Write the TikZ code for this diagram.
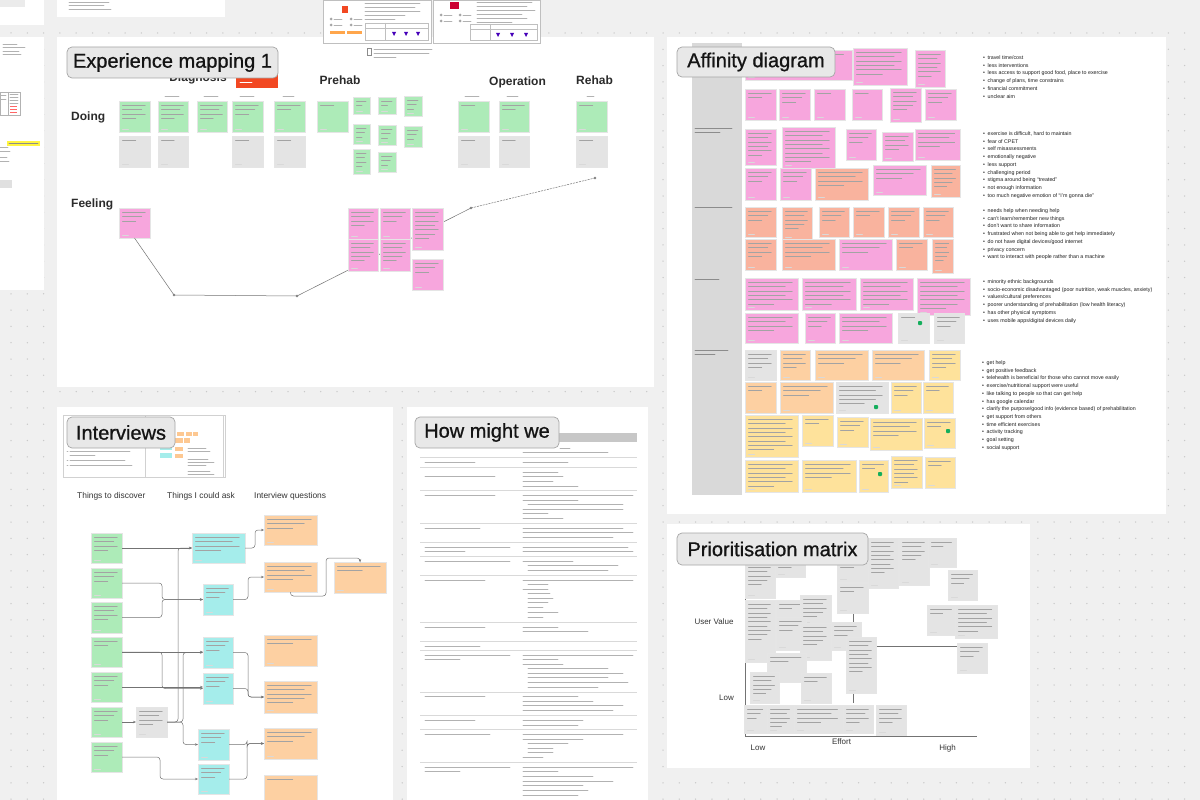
\documentclass[tikz,border=0pt]{standalone}
\usepackage{fontspec}
\setmainfont{Liberation Sans}
\newfontfamily\titlefont[FakeBold=0.9]{Liberation Sans}
\usetikzlibrary{arrows.meta}
\definecolor{canvas}{HTML}{F0F0F0}
\definecolor{dotc}{HTML}{C9C9C9}
\definecolor{sgreen}{HTML}{ADEBB8}
\definecolor{sgray}{HTML}{E4E4E4}
\definecolor{spink}{HTML}{F7A6DD}
\definecolor{ssalmon}{HTML}{F9B39E}
\definecolor{sorange}{HTML}{FDD0A2}
\definecolor{syellow}{HTML}{FEE29B}
\definecolor{scyan}{HTML}{A5EDEB}
\definecolor{sred}{HTML}{F24822}
\definecolor{thumbgreen}{HTML}{14AE5C}
\definecolor{inkdark}{HTML}{2B2B2B}

% sticky note: name, colour, x1, y1, x2, y2, number of text lines
\newcommand\stickynote[7]{%
  \node[sticky, fill=#2, minimum width={(#5-#3)*1pt}, minimum height={(#6-#4)*1pt}, anchor=north west] (#1) at (#3,#4) {};
  \foreach \k in {1,...,#7}{%
    \pgfmathsetmacro\len{(#5-#3-7)*ifthenelse(\k==#7,0.55,ifthenelse(mod(\k,2)==0,0.8,0.95))}
    \draw[greek] (#3+3.5,#4+4.5+\k*4.3-4.3) -- ++(\len,0);
  }
  \draw[greek, draw=black!15, line width=0.6pt] (#3+3.5,#6-3) -- ++(6,0);
}

\begin{document}
\begin{tikzpicture}[x=1pt,y=-1pt,
  sticky/.style={draw=black!10, line width=0.3pt, inner sep=0pt, outer sep=0pt, rectangle},
  greek/.style={line width=0.7pt, draw=black!36, line cap=round},
  hmwtext/.style={line width=0.75pt, draw=black!30, line cap=round},
  rowline/.style={line width=0.3pt, draw=black!15},
  frame/.style={fill=white},
  titlebox/.style={draw=black!35, fill=black!9, rounded corners=5pt, line width=0.7pt,
    font=\titlefont\fontsize{20}{24}\selectfont, text=black!92, inner sep=0pt},
  heading/.style={font=\bfseries\fontsize{12}{14}\selectfont, text=inkdark, inner sep=0pt},
  colhead/.style={font=\fontsize{8.4}{10}\selectfont, text=black!80, inner sep=0pt, anchor=west},
  axislabel/.style={font=\fontsize{8}{10}\selectfont, text=black!80, inner sep=0pt},
  blist/.style={font=\fontsize{5.3}{7.7}\selectfont, text=black!88, align=left, inner sep=0pt, anchor=north west},
  conn/.style={draw=black!55, line width=0.5pt, rounded corners=3pt, -{Stealth[length=3pt,width=2.4pt]}},
  journey/.style={draw=black!55, line width=0.5pt},
  axis/.style={draw=black!55, line width=0.7pt}
]
\useasboundingbox (0,0) rectangle (1200,800);

% ---------- canvas with dot grid ----------
\fill[canvas] (0,0) rectangle (1200,800);
\foreach \i in {0,...,73}{\foreach \j in {0,...,47}{\fill[dotc] (11+\i*16.3,33+\j*16.3) circle[radius=0.75];}}

% ---------- frames ----------
\fill[frame] (0,0) rectangle (44,25);
\fill[black!8] (0,0) rectangle (25,7);
\fill[frame] (57,0) rectangle (225,17);
\fill[frame] (0,37) rectangle (44,290);
\fill[frame] (57,37) rectangle (654,387);
\fill[frame] (57,407) rectangle (393,800);
\fill[frame] (407,407) rectangle (648,800);
\fill[frame] (667,37) rectangle (1166,514);
\fill[frame] (667,524) rectangle (1030,768);

% ---------- small notes on the left edge ----------
\foreach \yy/\ll in {2/40, 5.5/35, 9/42}{\draw[hmwtext] (69,\yy) -- ++(\ll,0);}
\foreach \yy/\ll in {44/14, 47.5/22, 51/16, 54.5/18}{\draw[hmwtext] (3,\yy) -- ++(\ll,0);}
\draw[black!30, line width=0.3pt] (0,92) rectangle (20,115);
\draw[black!30, line width=0.3pt] (8,92) -- (8,115);
\foreach \yy in {94,97,100,103}{\draw[hmwtext] (10,\yy) -- ++(8,0);}
\foreach \yy in {106,109,112}{\draw[line width=0.7pt, red!60] (10,\yy) -- ++(7,0);}
\foreach \yy in {95,99}{\draw[hmwtext] (1,\yy) -- ++(5,0);}
\fill[yellow!75] (7,141) rectangle (40,145.5);
\draw[hmwtext, draw=black!45] (9,143.3) -- ++(29,0);
\foreach \yy/\ll in {147/8, 151/10, 157/7, 161/9}{\draw[hmwtext] (0,\yy) -- ++(\ll,0);}
\fill[black!12] (0,180) rectangle (12,188);

% ---------- reference thumbnails above the experience map ----------
\draw[fill=white, draw=black!25, line width=0.4pt] (323,0) rectangle (431,43);
\draw[fill=white, draw=black!25, line width=0.4pt] (433,0) rectangle (540,43);
\fill[sred] (342,6) rectangle (348,13);
\foreach \yy/\ll in {3/55, 7/50, 11/55, 15/40, 19/30}{\draw[hmwtext] (365,\yy) -- ++(\ll,0);}
\foreach \xx/\yy in {331/19, 351/19, 331/25, 351/25}{\fill[black!35] (\xx,\yy) circle[radius=1.5]; \draw[hmwtext] (\xx+3,\yy) -- ++(8,0);}
\fill[orange!70] (330,31) rectangle (345,34);
\fill[orange!70] (347,31) rectangle (362,34);
\draw[black!25, line width=0.3pt] (365,23) rectangle (428,40) (365,28) -- (428,28) (385,23) -- (385,40);
\foreach \xx in {392,404,416}{\fill[blue!45!violet] (\xx,32) -- (\xx+4,32) -- (\xx+2,36) -- cycle;}
\fill[purple!80!red] (450,2) rectangle (459,9);
\foreach \yy/\ll in {2/55, 6/50, 10/58, 14/45, 18/50, 22/35}{\draw[hmwtext] (477,\yy) -- ++(\ll,0);}
\foreach \xx/\yy in {441/15, 460/15, 441/21, 460/21}{\fill[black!35] (\xx,\yy) circle[radius=1.5]; \draw[hmwtext] (\xx+3,\yy) -- ++(8,0);}
\draw[black!25, line width=0.3pt] (470,24) rectangle (537,40) (470,29) -- (537,29) (490,24) -- (490,40);
\foreach \xx in {496,510,524}{\fill[blue!45!violet] (\xx,33) -- (\xx+4,33) -- (\xx+2,37) -- cycle;}
\draw[black!45, line width=0.4pt] (367,48) rectangle (371,55);
\foreach \yy/\ll in {49/58, 53/55, 57/22}{\draw[hmwtext] (374,\yy) -- ++(\ll,0);}

% ================= Experience mapping 1 =================
\node[heading] (hdiag) at (198,78) {Diagnosis};
\fill[sred] (236,62) rectangle (278,88);
\draw[line width=0.6pt, white, line cap=round] (240,82) -- ++(12,0);
\node[heading] (hprehab) at (340,80) {Prehab};
\node[heading] (hop) at (517.5,82) {Operation};
\node[heading] (hrehab) at (594.5,80) {Rehab};
\node[heading, anchor=west] (hdoing) at (71,117) {Doing};
\node[heading, anchor=west] (hfeel) at (71,204) {Feeling};

% stage labels over the columns
\foreach \xx/\ll in {165/14, 204/14, 240/14, 283/11, 465/14, 507/11, 587/7}{\draw[hmwtext, line width=0.6pt] (\xx,96) -- ++(\ll,0);}

\stickynote{eg1}{sgreen}{119}{101}{150}{132}{4}
\stickynote{eg2}{sgreen}{158}{101}{188}{132}{4}
\stickynote{eg3}{sgreen}{197}{101}{227}{132}{4}
\stickynote{eg4}{sgreen}{232}{101}{263}{132}{3}
\stickynote{eg5}{sgreen}{274}{101}{305}{132}{2}
\stickynote{eg6}{sgreen}{317}{101}{348}{132}{1}
\stickynote{es1}{sgreen}{353}{97}{370}{114}{2}
\stickynote{es2}{sgreen}{353}{124}{370}{144}{3}
\stickynote{es3}{sgreen}{353}{149}{370}{174}{4}
\stickynote{es4}{sgreen}{378}{97}{396}{114}{2}
\stickynote{es5}{sgreen}{378}{125}{396}{145}{3}
\stickynote{es6}{sgreen}{378}{152}{396}{172}{3}
\stickynote{es7}{sgreen}{404}{96}{422}{116}{3}
\stickynote{es8}{sgreen}{404}{126}{422}{147}{3}
\stickynote{eg7}{sgreen}{458}{101}{489}{132}{1}
\stickynote{eg8}{sgreen}{499}{101}{529}{132}{2}
\stickynote{eg9}{sgreen}{576}{101}{607}{132}{1}
\stickynote{ey1}{sgray}{119}{136}{150}{167}{1}
\stickynote{ey2}{sgray}{158}{136}{188}{167}{1}
\stickynote{ey3}{sgray}{232}{136}{263}{167}{1}
\stickynote{ey4}{sgray}{274}{136}{305}{167}{1}
\stickynote{ey5}{sgray}{458}{136}{489}{167}{1}
\stickynote{ey6}{sgray}{499}{136}{529}{167}{1}
\stickynote{ey7}{sgray}{576}{136}{607}{167}{1}

% emotional journey line
\stickynote{ef1}{spink}{119}{208}{150}{238}{3}
\coordinate (fl1) at (174,295);
\coordinate (fl2) at (297,296);
\coordinate (fl3) at (471,208);
\coordinate (fl4) at (595,178);
\draw[journey] (ef1.south) -- (fl1) -- (fl2) -- (fl3);
\draw[journey, dash pattern=on 2pt off 1pt] (fl3) -- (fl4);
\foreach \c in {fl1,fl2,fl3,fl4}{\draw[black!55, fill=white, line width=0.4pt] (\c) circle[radius=1];}
\stickynote{ef2}{spink}{348}{208}{378}{239}{4}
\stickynote{ef3}{spink}{348}{239}{378}{271}{5}
\stickynote{ef4}{spink}{380}{208}{410}{239}{3}
\stickynote{ef5}{spink}{380}{239}{410}{271}{5}
\stickynote{ef6}{spink}{412}{208}{443}{250}{7}
\stickynote{ef7}{spink}{412}{259}{443}{290}{3}

\node[titlebox, minimum width=211pt, minimum height=31pt] (expTitle) at (172.5,62.5) {Experience mapping 1};

% ================= Interviews =================
\draw[fill=white, draw=black!18, line width=0.4pt] (63,415) rectangle (225,477);
\draw[draw=black!18, line width=0.4pt] (145,415) rectangle (223,477);
\foreach \yy/\ll in {451/60, 455/25, 460/55, 465/62}{\draw[hmwtext] (70,\yy) -- ++(\ll,0);}
\foreach \yy in {451,460,465}{\draw[hmwtext] (67,\yy) -- ++(1,0);}
\foreach \a/\b/\c/\d in {177/432/184/436, 186/432/192/436, 193/432/198/436, 175/438/183/443, 184/438/190/443, 175/447/183/451, 175/454/183/458}{\fill[sorange!90!orange] (\a,\b) rectangle (\c,\d);}
\fill[scyan] (160,447) rectangle (172,450);
\fill[scyan] (160,453) rectangle (172,458);
\foreach \yy/\ll in {448/18, 451/22, 459/20, 462/26, 465/18, 471/22, 474/26}{\draw[hmwtext, line width=0.6pt] (188,\yy) -- ++(\ll,0);}
\node[titlebox, minimum width=108pt, minimum height=31pt] (intTitle) at (121,432.5) {Interviews};

\node[colhead] (hdisc) at (77,496) {Things to discover};
\node[colhead] (hask) at (167,496) {Things I could ask};
\node[colhead] (hquest) at (254,496) {Interview questions};

\stickynote{ig1}{sgreen}{91}{533}{122}{563}{4}
\stickynote{ig2}{sgreen}{91}{568}{122}{598}{3}
\stickynote{ig3}{sgreen}{91}{602}{122}{633}{4}
\stickynote{ig4}{sgreen}{91}{637}{122}{667}{2}
\stickynote{ig5}{sgreen}{91}{672}{122}{702}{3}
\stickynote{ig6}{sgreen}{91}{707}{122}{737}{3}
\stickynote{ig7}{sgreen}{91}{742}{122}{772}{3}
\stickynote{igr}{sgray}{136}{707}{167}{737}{4}
\stickynote{ic1}{scyan}{192}{533}{245}{563}{4}
\stickynote{ic2}{scyan}{203}{584}{233}{615}{3}
\stickynote{ic3}{scyan}{203}{637}{233}{668}{3}
\stickynote{ic4}{scyan}{203}{673}{233}{704}{3}
\stickynote{ic5}{scyan}{198}{729}{229}{760}{3}
\stickynote{ic6}{scyan}{198}{764}{229}{794}{3}
\stickynote{io1}{sorange}{264}{515}{317}{545}{3}
\stickynote{io2}{sorange}{264}{562}{317}{592}{4}
\stickynote{io3}{sorange}{264}{635}{317}{666}{2}
\stickynote{io4}{sorange}{264}{681}{317}{713}{5}
\stickynote{io5}{sorange}{264}{728}{317}{759}{3}
\stickynote{io6}{sorange}{264}{775}{317}{805}{1}
\stickynote{io7}{sorange}{334}{562}{386}{593}{2}

\draw[conn] (ig1.east) -- (ig1.east -| ic1.west);
\draw[conn] (ig2.east) -- ++(40,0) |- (ic2.west);
\draw[conn] (ig3.east) -- ++(40,0) |- (ic2.west);
\draw[conn] (ig4.east) -- (ig4.east -| ic3.west);
\draw[conn] (ig4.east) -- ++(40,0) |- (ic4.west);
\draw[conn] (ig5.east) -- (ig5.east -| ic4.west);
\draw[conn] (ig6.east) -- (igr.west);
\draw[conn] (igr.east) -- ++(11,0) |- (ic1.west);
\draw[conn] (igr.east) -- ++(16,0) |- (ic3.west);
\draw[conn] (igr.east) -- ++(16,0) |- (ic5.west);
\draw[conn] (ig7.east) -- ++(38,0) |- (ic6.west);
\draw[conn] (ic1.east) -- ++(10,0) |- (io1.west);
\draw[conn] (ic2.east) -- ++(15,0) |- (io2.west);
\draw[conn] (ic3.east) -- ++(15,0) |- (io4.west);
\draw[conn] (ic4.east) -- ++(15,0) |- (io4.west);
\draw[conn] (ic5.east) -- ++(18,0) |- (io5.west);
\draw[conn] (ic6.east) -- ++(18,0) |- (io5.west);
\draw[conn] (io2.south) -- ++(0,4) -- ++(35.5,0) -- ++(0,-38) -| (io7.north);

% ================= How might we =================
\fill[black!22] (559,433) rectangle (637,442);
\draw[hmwtext] (560,448) -- ++(10,0);
\foreach \yy in {457,467,490,523,542,556,575,622,641,650,692,715,729,762}{\draw[rowline] (420,\yy) -- (637,\yy);}
\foreach \yy/\ll in {462/50, 476/70, 495/70, 528/55, 547/85, 551/40, 561/85, 580/60, 627/60, 646/55, 655/85, 659/35, 696/60, 720/50, 734/65, 767/85, 771/35}{\draw[hmwtext] (425,\yy) -- ++(\ll,0);}
\foreach \xx/\yy/\ll in {523/452/85, 523/462/45, 523/472/35, 523/476/40, 523/481/30, 523/486/55, 523/495/110, 523/500/55, 528/504/95, 523/509/100, 523/513/25, 523/518/40, 523/528/100, 523/532/110, 523/537/90, 523/547/105, 523/551/110, 523/561/50, 528/565/90, 528/570/80, 523/580/110, 528/584/20, 523/589/25, 528/593/22, 528/598/25, 528/602/20, 528/607/15, 528/612/30, 528/617/15, 523/627/35, 523/631/65, 523/655/110, 523/659/35, 523/664/40, 528/668/80, 528/673/95, 528/677/80, 528/682/100, 528/687/70, 523/696/55, 523/701/70, 523/705/100, 523/710/90, 523/720/60, 523/725/55, 523/734/100, 523/739/60, 528/743/40, 528/748/25, 528/752/25, 523/757/20, 523/767/110, 523/771/35, 523/776/70, 523/781/90, 523/785/60, 523/790/65, 523/795/55}{\draw[hmwtext] (\xx,\yy) -- ++(\ll,0);}
\node[titlebox, minimum width=144pt, minimum height=31pt] (hmwTitle) at (487,432.5) {How might we};

% ================= Affinity diagram =================
\fill[black!15] (692,43) rectangle (742,495);
\foreach \yy/\ll in {128/37, 132.5/25, 207/37, 279/24, 350/33, 354.5/20}{\draw[hmwtext, line width=0.6pt, draw=black!45] (695,\yy) -- ++(\ll,0);}

\stickynote{a1}{spink}{745}{50}{852}{80}{2}
\stickynote{a2}{spink}{853}{48}{907}{85}{6}
\stickynote{a3}{spink}{915}{50}{945}{87}{6}
\stickynote{a4}{spink}{745}{89}{776}{120}{2}
\stickynote{a5}{spink}{779}{89}{810}{120}{3}
\stickynote{a6}{spink}{814}{89}{845}{120}{1}
\stickynote{a7}{spink}{852}{89}{882}{120}{1}
\stickynote{a8}{spink}{890}{88}{921}{122}{5}
\stickynote{a9}{spink}{925}{89}{956}{120}{3}
\stickynote{a10}{spink}{745}{129}{776}{165}{6}
\stickynote{a11}{spink}{782}{127}{835}{168}{8}
\stickynote{a12}{spink}{846}{129}{876}{160}{3}
\stickynote{a13}{spink}{882}{132}{913}{161}{4}
\stickynote{a14}{spink}{915}{129}{960}{160}{4}
\stickynote{a15}{spink}{745}{168}{776}{200}{3}
\stickynote{a16}{spink}{780}{168}{811}{200}{3}
\stickynote{a17}{ssalmon}{815}{168}{868}{200}{4}
\stickynote{a18}{spink}{873}{165}{926}{195}{3}
\stickynote{a19}{ssalmon}{931}{165}{960}{197}{5}
\stickynote{a20}{ssalmon}{745}{207}{776}{237}{3}
\stickynote{a21}{ssalmon}{782}{207}{812}{240}{5}
\stickynote{a22}{ssalmon}{819}{207}{849}{237}{3}
\stickynote{a23}{ssalmon}{853}{207}{884}{237}{2}
\stickynote{a24}{ssalmon}{888}{207}{919}{237}{3}
\stickynote{a25}{ssalmon}{923}{207}{953}{237}{3}
\stickynote{a26}{ssalmon}{745}{239}{776}{270}{4}
\stickynote{a27}{ssalmon}{782}{239}{835}{270}{4}
\stickynote{a28}{spink}{839}{239}{892}{270}{3}
\stickynote{a29}{ssalmon}{896}{239}{927}{270}{2}
\stickynote{a30}{ssalmon}{932}{239}{953}{273}{5}
\stickynote{a31}{spink}{745}{278}{798}{310}{6}
\stickynote{a32}{spink}{802}{278}{856}{310}{6}
\stickynote{a33}{spink}{860}{278}{913}{310}{6}
\stickynote{a34}{spink}{917}{278}{970}{315}{7}
\stickynote{a35}{spink}{745}{313}{798}{343}{4}
\stickynote{a36}{spink}{805}{313}{835}{343}{3}
\stickynote{a37}{spink}{839}{313}{892}{343}{4}
\stickynote{a38}{sgray}{898}{313}{929}{343}{1}
\stickynote{a39}{sgray}{934}{313}{964}{343}{3}
\stickynote{a40}{sgray}{745}{350}{776}{380}{4}
\stickynote{a41}{sorange}{780}{350}{810}{380}{4}
\stickynote{a42}{sorange}{815}{350}{868}{380}{3}
\stickynote{a43}{sorange}{872}{350}{924}{380}{3}
\stickynote{a44}{syellow}{929}{350}{960}{380}{4}
\stickynote{a45}{sorange}{745}{382}{776}{413}{2}
\stickynote{a46}{sorange}{780}{382}{833}{413}{3}
\stickynote{a47}{sgray}{836}{382}{888}{413}{5}
\stickynote{a48}{syellow}{891}{382}{921}{413}{3}
\stickynote{a49}{syellow}{923}{382}{953}{413}{2}
\stickynote{a50}{syellow}{745}{415}{798}{457}{8}
\stickynote{a51}{syellow}{802}{415}{833}{446}{2}
\stickynote{a52}{syellow}{837}{417}{868}{447}{3}
\stickynote{a53}{syellow}{870}{418}{922}{450}{4}
\stickynote{a54}{syellow}{924}{418}{955}{448}{2}
\stickynote{a55}{syellow}{745}{460}{798}{492}{6}
\stickynote{a56}{syellow}{802}{460}{856}{492}{4}
\stickynote{a57}{syellow}{859}{460}{888}{492}{2}
\stickynote{a58}{syellow}{891}{456}{922}{488}{6}
\stickynote{a59}{syellow}{925}{457}{955}{488}{2}
\foreach \xx/\yy in {918/321, 874/405, 946/429, 878/472}{\fill[thumbgreen, rounded corners=0.8pt] (\xx,\yy) rectangle ++(4,4);}

\node[titlebox, minimum width=158pt, minimum height=30pt] (affTitle) at (756,62) {Affinity diagram};

\node[blist] (list1) at (983,55.5) {•\hspace{2.6pt}travel time/cost\\ •\hspace{2.6pt}less interventions\\ •\hspace{2.6pt}less access to support good food, place to exercise\\ •\hspace{2.6pt}change of plans, time constrains\\ •\hspace{2.6pt}financial commitment\\ •\hspace{2.6pt}unclear aim};
\node[blist] (list2) at (983,131.5) {•\hspace{2.6pt}exercise is difficult, hard to maintain\\ •\hspace{2.6pt}fear of CPET\\ •\hspace{2.6pt}self misassessments\\ •\hspace{2.6pt}emotionally negative\\ •\hspace{2.6pt}less support\\ •\hspace{2.6pt}challenging period\\ •\hspace{2.6pt}stigma around being ``treated''\\ •\hspace{2.6pt}not enough information\\ •\hspace{2.6pt}too much negative emotion of ``I'm gonna die''};
\node[blist] (list3) at (983,208.5) {•\hspace{2.6pt}needs help when needing help\\ •\hspace{2.6pt}can't learn/remember new things\\ •\hspace{2.6pt}don't want to share information\\ •\hspace{2.6pt}frustrated when not being able to get help immediately\\ •\hspace{2.6pt}do not have digital devices/good internet\\ •\hspace{2.6pt}privacy concern\\ •\hspace{2.6pt}want to interact with people rather than a machine};
\node[blist] (list4) at (983,279.5) {•\hspace{2.6pt}minority ethnic backgrounds\\ •\hspace{2.6pt}socio-economic disadvantaged (poor nutrition, weak muscles, anxiety)\\ •\hspace{2.6pt}values/cultural preferences\\ •\hspace{2.6pt}poorer understanding of prehabilitation (low health literacy)\\ •\hspace{2.6pt}has other physical symptoms\\ •\hspace{2.6pt}uses mobile apps/digital devices daily};
\node[blist] (list5) at (982,360.5) {•\hspace{2.6pt}get help\\ •\hspace{2.6pt}get positive feedback\\ •\hspace{2.6pt}telehealth is beneficial for those who cannot move easily\\ •\hspace{2.6pt}exercise/nutritional support were useful\\ •\hspace{2.6pt}like talking to people so that can get help\\ •\hspace{2.6pt}has google calendar\\ •\hspace{2.6pt}clarify the purpose/good info (evidence based) of prehabilitation\\ •\hspace{2.6pt}get support from others\\ •\hspace{2.6pt}time efficient exercises\\ •\hspace{2.6pt}activity tracking\\ •\hspace{2.6pt}goal setting\\ •\hspace{2.6pt}social support};

% ================= Prioritisation matrix =================
\coordinate (pO) at (745,736);
\coordinate (pXend) at (977,736);
\coordinate (pYtop) at (745,565);
\coordinate (pMidV1) at (853,575);
\coordinate (pMidV2) at (853,703);
\coordinate (pMidH1) at (745,646);
\coordinate (pMidH2) at (962,646);
\draw[axis] (pYtop) -- (pO) -- (pXend);
\draw[axis] (pMidV1) -- (pMidV2);
\draw[axis] (pMidH1) -- (pMidH2);

\stickynote{p1}{sgray}{745}{563}{775}{598}{5}
\stickynote{p2}{sgray}{775}{563}{805}{577}{1}
\stickynote{p3}{sgray}{837}{563}{868}{582}{1}
\stickynote{p4}{sgray}{868}{538}{898}{588}{8}
\stickynote{p5}{sgray}{899}{538}{929}{585}{5}
\stickynote{p6}{sgray}{928}{538}{956}{567}{2}
\stickynote{p7}{sgray}{948}{570}{977}{600}{3}
\stickynote{p8}{sgray}{837}{583}{868}{613}{2}
\stickynote{p9}{sgray}{745}{600}{775}{662}{9}
\stickynote{p10}{sgray}{776}{600}{805}{630}{2}
\stickynote{p11}{sgray}{800}{595}{831}{625}{5}
\stickynote{p12}{sgray}{776}{617}{806}{650}{3}
\stickynote{p13}{sgray}{800}{623}{831}{660}{5}
\stickynote{p14}{sgray}{831}{622}{861}{650}{3}
\stickynote{p15}{sgray}{846}{637}{876}{693}{8}
\stickynote{p16}{sgray}{767}{653}{806}{682}{2}
\stickynote{p17}{sgray}{750}{672}{779}{703}{5}
\stickynote{p18}{sgray}{801}{673}{831}{703}{2}
\stickynote{p19}{sgray}{927}{605}{956}{635}{2}
\stickynote{p20}{sgray}{955}{605}{997}{638}{6}
\stickynote{p21}{sgray}{957}{643}{987}{673}{3}
\stickynote{p22}{sgray}{744}{705}{767}{733}{3}
\stickynote{p23}{sgray}{767}{705}{794}{733}{5}
\stickynote{p24}{sgray}{794}{705}{843}{733}{4}
\stickynote{p25}{sgray}{843}{705}{873}{733}{4}
\stickynote{p26}{sgray}{876}{705}{906}{735}{4}

\node[titlebox, minimum width=191pt, minimum height=32pt] (priTitle) at (772.5,549) {Prioritisation matrix};
\node[axislabel] (lval) at (714,622) {User Value};
\node[axislabel] (llowy) at (726.5,698) {Low};
\node[axislabel] (llowx) at (758,748) {Low};
\node[axislabel] (leff) at (841.5,742) {Effort};
\node[axislabel] (lhigh) at (947.5,748) {High};

\end{tikzpicture}
\end{document}
